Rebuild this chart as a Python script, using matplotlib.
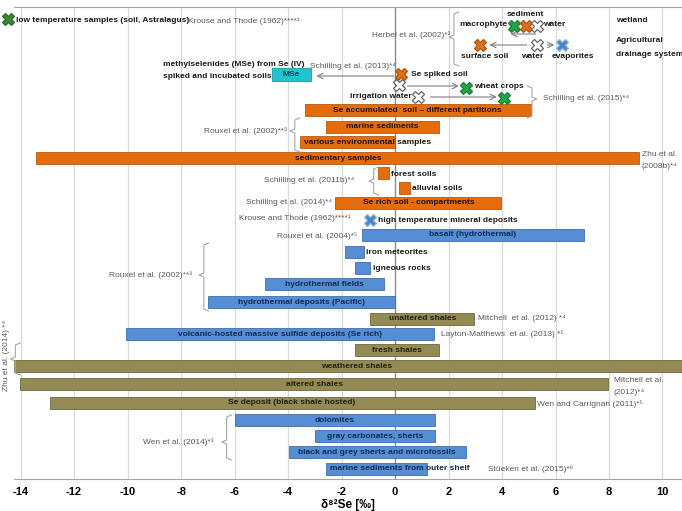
import numpy as np
import matplotlib.pyplot as plt

plt.rcParams['font.family'] = ['Liberation Sans', 'DejaVu Sans']

# ---- data (delta 82Se, per mil) ----
bar_labels = ['Se accumulated  soil \u2013 different partitions', 'marine sediments',
              'various environmental samples', 'sedimentary samples', 'forest soils',
              'alluvial soils', 'Se rich soil - compartments', 'basalt (hydrothermal)',
              'iron meteorites', 'igneous rocks', 'hydrothermal fields',
              'hydrothermal deposits (Pacific)', 'unaltered shales',
              'volcanic-hosted massive sulfide deposits (Se rich)', 'fresh shales',
              'weathered shales', 'altered shales', 'Se deposit (black shale hosted)',
              'dolomites', 'gray carbonates, sherts', 'black and grey sherts and microfossils',
              'marine sediments from outer shelf']
bar_lo = [-3.38, -2.6, -3.57, -13.41, -0.65, 0.13, -2.23, -1.22, -1.89, -1.51, -4.88,
          -7.01, -0.92, -10.08, -1.51, -14.6, -14.04, -12.92, -6.0, -3.01, -3.98, -2.6]
bar_hi = [5.07, 1.66, 0.0, 9.14, -0.24, 0.54, 3.98, 7.05, -1.18, -0.92, -0.43,
          0.0, 2.97, 1.44, 1.63, 11.7, 7.98, 5.22, 1.51, 1.51, 2.64, 1.18]
bar_group = ['soil'] * 7 + ['rock'] * 5 + ['shale', 'rock', 'shale', 'shale', 'shale',
                                          'shale', 'rock', 'rock', 'rock', 'rock']

mse_lo, mse_hi = -4.62, -3.16

marker_x = [-14.49, 4.43, 4.88, 5.29, 3.16, 5.29, 6.23, 0.24, 0.13, 2.64, 0.84, 4.09, -0.95]
marker_kind = ['plant_dark', 'plant', 'soil', 'water', 'soil', 'water', 'evap', 'soil',
               'water', 'plant', 'water', 'plant', 'rock']

# ---- layout (pixel rows from top) ----
bar_y = [110, 127, 142, 158, 173, 188, 203, 235, 252, 268, 284, 302, 319, 334, 350,
         366, 384, 403, 420, 436, 452, 469]
bar_mode = ['c', 'c', 'l', 'c', 'r', 'r', 'c', 'c', 'r', 'r', 'c', 'c', 'c', 'c', 'c',
            'c', 'c', 'c', 'c', 'c', 'c', 'l']
marker_y = [19, 26, 26, 26, 45, 45, 45, 74, 85, 88, 97, 98, 220]

fill = {'soil': '#E46C0A', 'rock': '#558ED5', 'shale': '#948A54'}
edge = {'soil': '#B85A10', 'rock': '#3F6FAF', 'shale': '#6E6640'}
tcol = {'soil': '#1E1206', 'rock': '#142A4E', 'shale': '#22200F'}
mfill = {'plant_dark': '#3A8A35', 'plant': '#22A447', 'soil': '#E07018',
         'water': '#FFFFFF', 'evap': '#4A86C8', 'rock': '#4A86C8'}
medge = {'plant_dark': '#2E6B2A', 'plant': '#1A7F36', 'soil': '#B0560E',
         'water': '#666666', 'evap': '#8FB5E0', 'rock': '#8FB5E0'}

GRAY = '#595959'
fig = plt.figure(figsize=(6.82, 5.11), dpi=100)
ax = fig.add_axes([14 / 682, 32 / 511, 668 / 682, 472 / 511])
ax.set_xlim(-14.25, 10.73)
ax.set_ylim(479, 7)
ax.set_xticks(np.arange(-14, 11, 2))
ax.set_xticklabels([str(v) for v in range(-14, 11, 2)], fontsize=8, fontweight='bold')
ax.tick_params(axis='x', length=0, pad=6)
ax.set_yticks([])
for s in ['left', 'right']:
    ax.spines[s].set_visible(False)
ax.spines['top'].set_color('#A6A6A6')
ax.spines['bottom'].set_color('#A6A6A6')
for v in range(-14, 11, 2):
    if v != 0:
        ax.axvline(v, color='#D9D9D9', lw=0.9, zorder=0)
ax.axvline(0, color='#8C8C8C', lw=1.0, zorder=0.5)
ax.set_xlabel('\u03b4\u2078\u00b2Se [\u2030]', fontsize=8.5, fontweight='bold')
ax.xaxis.set_label_coords(0.5, -0.042)

FS = 6.0
for lab, lo, hi, g, y, m in zip(bar_labels, bar_lo, bar_hi, bar_group, bar_y, bar_mode):
    ax.barh(y, hi - lo, left=lo, height=12.5, color=fill[g], edgecolor=edge[g], lw=0.6, zorder=2)
    if m == 'c':
        ax.text((lo + hi) / 2, y, lab, ha='center', va='center', fontsize=FS,
                fontweight='bold', color=tcol[g], zorder=3)
    elif m == 'l':
        ax.text(lo + 0.15, y, lab, ha='left', va='center', fontsize=FS,
                fontweight='bold', color=tcol[g], zorder=3)
    else:
        ax.text(hi + 0.1, y + 1, lab, ha='left', va='center', fontsize=FS,
                fontweight='bold', color='#1A1A1A', zorder=3)

ax.barh(75, mse_hi - mse_lo, left=mse_lo, height=13, color='#22C3CC', edgecolor='#1A9AA0',
        lw=0.6, zorder=2)
ax.text((mse_lo + mse_hi) / 2, 75, 'MSe', ha='center', va='center', fontsize=FS,
        fontweight='bold', color='#123C55', zorder=3)

for x, y, k in zip(marker_x, marker_y, marker_kind):
    ax.plot(x, y, marker='X', ms=9, mfc=mfill[k], mec=medge[k], mew=0.9,
            zorder=4, clip_on=False)


def ref(x, y, s, ha='left', **kw):
    ax.text(x, y, s, ha=ha, va='center', fontsize=FS, color=GRAY, zorder=3, **kw)


def note(x, y, s, ha='left'):
    ax.text(x, y, s, ha=ha, va='center', fontsize=FS, fontweight='bold',
            color='#1A1A1A', zorder=3)


def arrow(x0, x1, y):
    ax.annotate('', xy=(x1, y), xytext=(x0, y),
                arrowprops=dict(arrowstyle='->', color='#7F7F7F', lw=0.8), zorder=3)


def brace(x, y0, y1, ym, side=-1):
    # side=-1: tip points left, hooks point right
    h = 0.18
    xs = [x - side * h, x, x, x + side * h, x, x, x - side * h]
    ys = [y0, y0 + 2, ym - 2, ym, ym + 2, y1 - 2, y1]
    ax.plot(xs, ys, color='#A6A6A6', lw=0.8, zorder=3, clip_on=False)


# top annotations
note(-14.16, 21, 'low temperature samples (soil, Astralagus)')
ref(-7.76, 21, 'Krouse and Thode (1962)****\u00b9')
ref(2.05, 35, 'Herbel et al. (2002)*\u00b2', ha='right')
brace(2.2, 12, 66, 37)
note(4.88, 15, 'sediment', ha='center')
note(4.2, 25, 'macrophyte', ha='right')
note(5.52, 25, 'water')
arrow(5.37, 4.21, 34)
arrow(5.03, 3.42, 45)
arrow(5.59, 6.06, 45)
note(3.35, 57, 'surface soil', ha='center')
note(5.14, 57, 'water', ha='center')
note(5.85, 57, 'evaporites')
note(8.25, 20, 'wetland')
note(8.25, 41, 'Agricultural')
note(8.25, 55, 'drainage system')

note(-8.66, 64, 'methylselenides (MSe) from Se (IV)')
note(-8.66, 77, 'spiked and incubated soils')
ref(0.05, 66, 'Schilling et al. (2013)*\u2074', ha='right')
arrow(0.06, -3.05, 76)
note(0.58, 74, 'Se spiked soil')
arrow(0.36, 2.49, 86)
note(2.94, 87, 'wheat crops')
note(0.62, 97, 'irrigation water', ha='right')
arrow(1.22, 3.91, 97)
brace(5.12, 86, 118, 99, side=1)
ref(5.52, 99, 'Schilling et al. (2015)*\u2074')

ref(-4.05, 131, 'Rouxel et al. (2002)**\u00b3', ha='right')
brace(-3.75, 118, 152, 131)
ref(9.22, 154, 'Zhu et al.')
ref(9.22, 166, '(2008b)*\u2074')
ref(-1.51, 180, 'Schilling et al. (2011b)*\u2074', ha='right')
brace(-0.8, 167, 195, 181)
ref(-2.37, 203, 'Schilling et al. (2014)*\u2074', ha='right')
ref(-1.65, 218, 'Krouse and Thode (1962)****\u00b9', ha='right')
note(-0.62, 220, 'high temperature mineral deposits')
ref(-1.4, 236, 'Rouxel et al. (2004)*\u2075', ha='right')
ref(-7.6, 275, 'Rouxel et al. (2002)**\u00b3', ha='right')
brace(-7.15, 243, 311, 275)
ref(3.09, 318, 'Mitchell  et al. (2012) *\u2074')
ref(1.7, 334, 'Layton-Matthews  et al. (2013) *\u2075')
ax.text(-14.53, 355, 'Zhu et al. (2014) *\u2074', rotation=90, ha='center', va='center',
        fontsize=FS, color=GRAY, zorder=3, clip_on=False)
brace(-14.2, 343, 375, 359)
ref(8.17, 381, 'Mitchell et al.')
ref(8.17, 393, '(2012)*\u2074')
ref(5.29, 404, 'Wen and Carrignan (2011)*\u2075')
ref(-6.8, 442, 'Wen et al. (2014)*\u00b3', ha='right')
brace(-6.3, 415, 460, 442)
ref(3.46, 469, 'St\u00fceken et al. (2015)*\u2076')

fig.savefig('out.png', dpi=100)
